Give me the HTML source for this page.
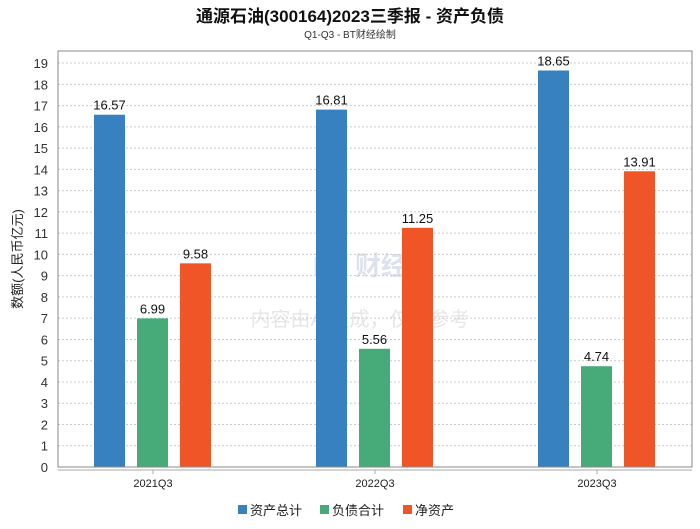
<!DOCTYPE html>
<html><head><meta charset="utf-8"><style>
body{margin:0;background:#fff;}
svg text{font-family:"Liberation Sans","Noto Sans CJK SC",sans-serif;}
</style></head><body>
<svg id="c" width="700" height="524" xmlns="http://www.w3.org/2000/svg">
<text x="350" y="22" text-anchor="middle" font-size="17" font-weight="bold" fill="#111">通源石油(300164)2023三季报 - 资产负债</text>
<text x="350" y="38" text-anchor="middle" font-size="10" fill="#333">Q1-Q3 - BT财经绘制</text>
<text x="360" y="275" text-anchor="middle" font-size="26" font-weight="bold" fill="#dde3ee">BT 财经</text>
<text x="360" y="326" text-anchor="middle" font-size="20" fill="#e6e6e6">内容由AI生成，仅供参考</text>
<g id="grid"></g><g id="bars"></g>
<rect x="58" y="51" width="634" height="416" fill="none" stroke="#888"/>
<line x1="58" y1="470" x2="692" y2="470" stroke="#aaa"/>
<text transform="translate(22,259) rotate(-90)" text-anchor="middle" font-size="13" fill="#222">数额(人民币亿元)</text>
<g>
<rect x="238" y="505" width="9" height="9" fill="#3781c0"/>
<text x="250" y="515" font-size="13" fill="#222">资产总计</text>
<rect x="320" y="505" width="9" height="9" fill="#46aa79"/>
<text x="332" y="515" font-size="13" fill="#222">负债合计</text>
<rect x="403" y="505" width="9" height="9" fill="#f05528"/>
<text x="415" y="515" font-size="13" fill="#222">净资产</text>
</g>
</svg>
<script>
const categories=["2021Q3","2022Q3","2023Q3"];
const assets=[16.57,16.81,18.65];
const liabilities=[6.99,5.56,4.74];
const equity=[9.58,11.25,13.91];
const yTicks=[0,1,2,3,4,5,6,7,8,9,10,11,12,13,14,15,16,17,18,19];
const NS="http://www.w3.org/2000/svg";
const y=v=>467-v*21.26;
const xc=i=>153+i*222;
const grid=document.getElementById('grid'),bars=document.getElementById('bars');
function mk(tag,at,parent){const e=document.createElementNS(NS,tag);for(const k in at)e.setAttribute(k,at[k]);parent.appendChild(e);return e;}
yTicks.forEach(t=>{
  if(t>0){const l=mk('line',{x1:58,x2:692,y1:y(t),y2:y(t),stroke:'#ccc','stroke-dasharray':'2,2'},grid);
  
  }
  const tx=mk('text',{x:48,y:y(t)+5,'text-anchor':'end','font-size':13,fill:'#333'},grid);
  tx.textContent=t;
  
  
});
const series=[[assets,'#3781c0','assets'],[liabilities,'#46aa79','liabilities'],[equity,'#f05528','equity']];
categories.forEach((c,i)=>{
  const tk=mk('line',{x1:xc(i),x2:xc(i),y1:470,y2:474,stroke:'#aaa'},grid);
  
  
  const lb=mk('text',{x:xc(i),y:487,'text-anchor':'middle','font-size':11,fill:'#222'},grid);
  lb.textContent=c;
  
  
  series.forEach((s,j)=>{
    const v=s[0][i],x=xc(i)-59+j*43;
    const r=mk('rect',{x:x,y:y(v),width:31,height:467-y(v),fill:s[1]},bars);
    
    
    const t=mk('text',{x:x+15.5,y:y(v)-5,'text-anchor':'middle','font-size':13,fill:'#111'},bars);
    t.textContent=v.toFixed(2);
    
    
  });
});
</script>
</body></html>
